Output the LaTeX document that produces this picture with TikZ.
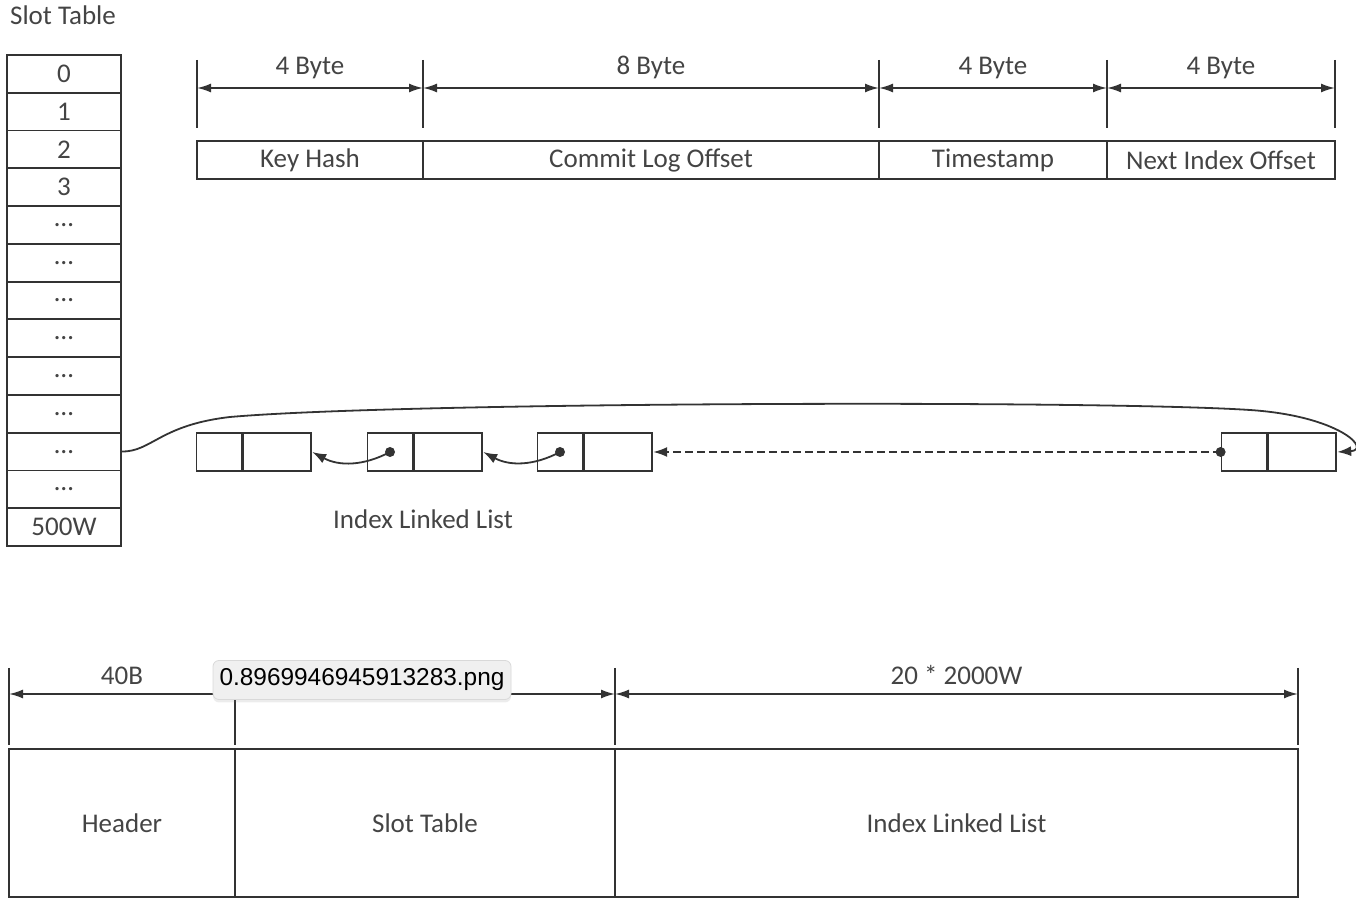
\documentclass[tikz,border=0pt]{standalone}
\usepackage{fontspec}
\setmainfont{Carlito}
\newfontfamily\tipfont{Liberation Sans}
\usetikzlibrary{arrows.meta,positioning,shadows}

\definecolor{ink}{HTML}{333333}
\definecolor{txt}{HTML}{444444}
\definecolor{tipbg}{HTML}{F0F0F0}

\tikzset{
  every node/.style={text=txt, font=\fontsize{13.5}{16}\selectfont},
  slotcell/.style={rectangle, draw=ink, line width=0.9pt, minimum width=57pt, minimum height=18.9pt, inner sep=0pt},
  field/.style={rectangle, draw=ink, line width=0.9pt, minimum height=19pt, inner sep=0pt},
  ptrcell/.style={rectangle, draw=ink, line width=0.9pt, minimum width=22.5pt, minimum height=19pt, inner sep=0pt},
  valcell/.style={rectangle, draw=ink, line width=0.9pt, minimum width=34pt, minimum height=19pt, inner sep=0pt},
  region/.style={rectangle, draw=ink, line width=0.9pt, minimum height=74pt, inner sep=0pt},
  tick/.style={draw=ink, line width=0.9pt},
  dim/.style={draw=ink, line width=0.9pt, {Latex[length=7pt,width=4.5pt]}-{Latex[length=7pt,width=4.5pt]}},
  link/.style={draw=ink, line width=0.9pt, -{Latex[length=7pt,width=5pt]}},
  dot/.style={circle, fill=ink, inner sep=0pt, minimum size=5pt},
  tip/.style={rectangle, rounded corners=3pt, draw=black!15, fill=tipbg, line width=0.4pt,
    drop shadow={opacity=0.15, shadow xshift=0pt, shadow yshift=-1.5pt},
    minimum width=149pt, minimum height=19.5pt, inner sep=0pt, text=black, font=\tipfont\fontsize{12.2}{15}\selectfont},
}

\begin{document}
\begin{tikzpicture}[x=0.5pt, y=0.5pt]
\useasboundingbox (0,0) rectangle (1356,-908);

% slot table
\node (slottitle) at (63,-15) {Slot Table};
\foreach \lbl [count=\i] in {0,1,2,3,\ldots,\ldots,\ldots,\ldots,\ldots,\ldots,\ldots,\ldots,500W}
  \node[slotcell] (s\i) at (64,{-55-37.77*(\i-0.5)}) {\lbl};

% index entry layout
\foreach \x/\n in {197/0,423/1,879/2,1107/3,1335/4} {
  \coordinate (t\n) at (\x,-88);
  \draw[tick] (\x,-60) -- (\x,-128);
}
\draw[dim] (t0) -- node[above=1pt] {4 Byte} (t1);
\draw[dim] (t1) -- node[above=1pt] {8 Byte} (t2);
\draw[dim] (t2) -- node[above=1pt] {4 Byte} (t3);
\draw[dim] (t3) -- node[above=1pt] {4 Byte} (t4);
\node[field, minimum width=113pt] (keyhash) at (310,-160) {Key Hash};
\node[field, minimum width=228pt] (cloffset) at (651,-160) {Commit Log Offset};
\node[field, minimum width=114pt] (tstamp) at (993,-160) {Timestamp};
\node[field, minimum width=114pt] (nextidx) at (1221,-160) {Next Index Offset};

% index linked list
\foreach \x/\n in {219/1,390/2,560/3,1244/4} {
  \node[ptrcell] (p\n) at (\x,-452) {};
  \node[valcell, right=0pt of p\n] (v\n) {};
}
\node[dot] (d2) at (p2.center) {};
\node[dot] (d3) at (p3.center) {};
\node[dot] (d4) at (p4.west) {};
\draw[link] (d2.center) to[bend left=28] (v1.east);
\draw[link] (d3.center) to[bend left=28] (v2.east);
\draw[link, dashed, dash pattern=on 4pt off 2pt] (d4.center) -- (v3.east);
\draw[link] (s11.east) .. controls +(30,0) and (160,-425) .. (230,-417)
  .. controls (400,-402) and (1100,-400) .. (1250,-410)
  .. controls (1340,-416) and (1372,-450) .. (v4.east);
\node (listlabel) at (423,-519) {Index Linked List};

% file layout
\foreach \x/\n in {9/0,235/1,615/2,1298/3} {
  \coordinate (b\n) at (\x,-694);
  \draw[tick] (\x,-668) -- (\x,-745);
}
\draw[dim] (b0) -- node[above=1pt] {40B} (b1);
\draw[dim] (b1) -- (b2);
\draw[dim] (b2) -- node[above=1pt] {20 * 2000W} (b3);
\node[region, minimum width=113pt] (header) at (122,-823) {Header};
\node[region, minimum width=190pt] (slotregion) at (425,-823) {Slot Table};
\node[region, minimum width=341.5pt] (listregion) at (956.5,-823) {Index Linked List};

\node[tip] (tooltip) at (362,-680) {0.8969946945913283.png};
\end{tikzpicture}
\end{document}
